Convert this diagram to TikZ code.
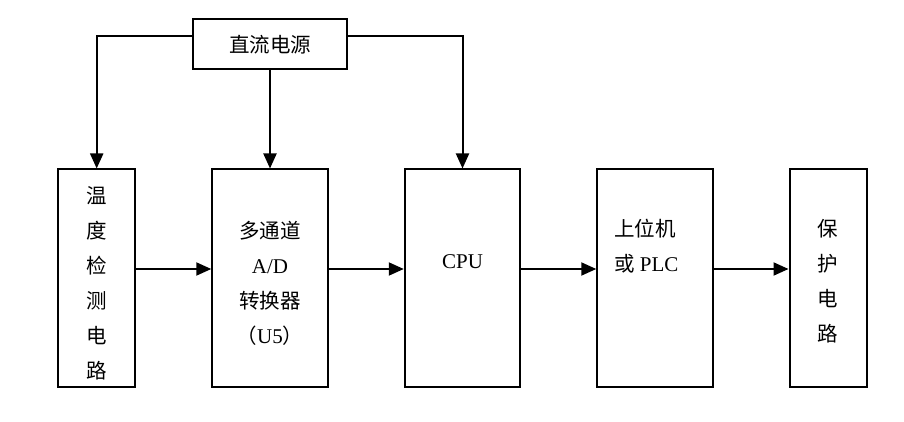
\documentclass[tikz,border=0pt]{standalone}
\usepackage{fontspec}
\setmainfont{Liberation Serif}
\newfontfamily\cjk{Noto Sans CJK SC}
\usetikzlibrary{arrows.meta}
\tikzset{
  box/.style={draw=black, line width=2pt, inner sep=0pt},
  txt/.style={align=center, inner sep=0pt, font=\fontsize{21}{35}\selectfont},
  arr/.style={draw=black, line width=2pt, -{Triangle[length=15pt,width=13pt]}},
  ln/.style={draw=black, line width=2pt}
}
\newcommand{\cj}[1]{{\cjk\fontsize{20.5}{35}\selectfont #1}}
\begin{document}
\begin{tikzpicture}[x=1pt,y=-1pt]
\useasboundingbox[fill=white] (0,0) rectangle (904,422);
% top box
\node[box, minimum width=154pt, minimum height=50pt] (top) at (270,44) {};
\node[txt] (ttop) at (270,45) {\cj{直流电源}};
% blocks
\node[box, minimum width=77pt, minimum height=217pt] (b1) at (96.7,278) {};
\node[box, minimum width=115.5pt, minimum height=217pt] (b2) at (270,278) {};
\node[box, minimum width=115.5pt, minimum height=217pt] (b3) at (462.5,278) {};
\node[box, minimum width=115.5pt, minimum height=217pt] (b4) at (655,278) {};
\node[box, minimum width=77pt, minimum height=217pt] (b5) at (828,278) {};
% texts
\node[txt] (t1) at (96.7,283) {\cj{温}\\\cj{度}\\\cj{检}\\\cj{测}\\\cj{电}\\\cj{路}};
\node[txt] (t2) at (270,283) {\cj{多通道}\\A/D\\\cj{转换器}\\\cj{（}U5\cj{）}};
\node[txt] (t3) at (462.5,262) {CPU};
\node[txt, align=left, anchor=north west] (t4) at (614,219) {\cj{上位机}\\\cj{或} PLC};
\node[txt] (t5) at (828,281) {\cj{保}\\\cj{护}\\\cj{电}\\\cj{路}};
% power connectors
\coordinate (pl) at (193,36);
\coordinate (pr) at (347,36);
\draw[arr] (pl) -| (b1.north);
\draw[arr] (top.south) -- (b2.north);
\draw[arr] (pr) -| (b3.north);
% chain
\draw[arr] ([yshift=9pt]b1.east) -- ([yshift=9pt]b2.west);
\draw[arr] ([yshift=9pt]b2.east) -- ([yshift=9pt]b3.west);
\draw[arr] ([yshift=9pt]b3.east) -- ([yshift=9pt]b4.west);
\draw[arr] ([yshift=9pt]b4.east) -- ([yshift=9pt]b5.west);
\end{tikzpicture}
\end{document}
